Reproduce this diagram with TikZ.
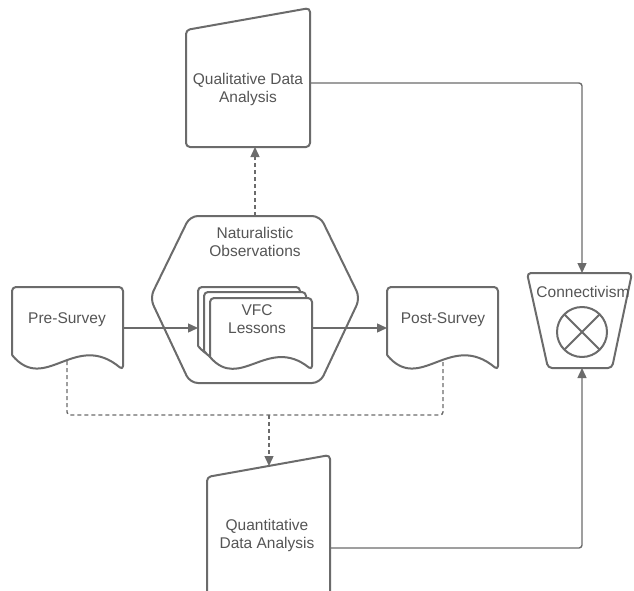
\documentclass[tikz,border=0pt]{standalone}
\usepackage{fontspec}
\setmainfont{Liberation Sans}
\usetikzlibrary{arrows.meta}
\definecolor{linegray}{HTML}{6B6B6B}
\definecolor{textgray}{HTML}{555555}

\begin{document}
\begin{tikzpicture}[x=1pt,y=-1pt,
    box/.style={draw=linegray,line width=2pt,rounded corners=4pt,fill=white,line join=round},
    txt/.style={text=textgray,font=\fontsize{15.5}{18}\selectfont,align=center},
    conn/.style={draw=linegray,line width=1.4pt,rounded corners=3pt,-{Triangle[length=10pt,width=9pt]}},
    dashline/.style={draw=linegray,line width=1.4pt,rounded corners=3pt,dash pattern=on 4pt off 3pt},
    dashconn/.style={conn,dash pattern=on 4pt off 3pt}]
    \clip (0,0) rectangle (634,591);
    % qualitative analysis (manual input)
    \draw[box] (186,30) -- (310,8) -- (310,147) -- (186,147) -- cycle;
    \node[txt] (qual) at (248,89) {Qualitative Data\\Analysis};
    % quantitative analysis (manual input)
    \draw[box] (207,600) -- (207,477) -- (330,455) -- (330,600);
    \node[txt] (quant) at (267,535) {Quantitative\\Data Analysis};
    % naturalistic observations (hexagon)
    \draw[box,rounded corners=8pt] (150,298) -- (190,216) -- (320,216) -- (360,298) -- (320,383) -- (190,383) -- cycle;
    \node[txt] (natobs) at (255,242) {Naturalistic\\Observations};
    % lessons (stacked documents)
    \foreach \dx/\dy in {198/287,204/292,210/298}
        \draw[box,shift={(\dx,\dy)}] (0,59) -- (0,0) -- (102,0) -- (102,72) .. controls (58,37) and (30,94) .. (0,59);
    \node[txt] (vfc) at (257,319) {VFC\\Lessons};
    % surveys (documents)
    \draw[box,shift={(12,287)}] (0,68) -- (0,0) -- (111,0) -- (111,83) .. controls (63,43) and (33,108) .. (0,68);
    \node[txt] (pre) at (67,320) {Pre-Survey};
    \draw[box,shift={(387,287)}] (0,68) -- (0,0) -- (111,0) -- (111,83) .. controls (63,43) and (33,108) .. (0,68);
    \node[txt] (post) at (443,320) {Post-Survey};
    % connectivism (trapezoid with cross)
    \draw[box] (527,273) -- (632,273) -- (612,368) -- (548,368) -- cycle;
    \node[txt] (connect) at (583,292) {Connectivism};
    \draw[box] (582,332) circle[radius=25pt];
    \draw[box] (564.3,314.3) -- (599.7,349.7) (599.7,314.3) -- (564.3,349.7);
    % connection points
    \coordinate (qual-south) at (255,147);
    \coordinate (qual-east) at (310,83);
    \coordinate (hex-north) at (255,216);
    \coordinate (pre-east) at (123,328);
    \coordinate (vfc-west) at (198,328);
    \coordinate (vfc-east) at (312,328);
    \coordinate (post-west) at (387,328);
    \coordinate (pre-south) at (67,361);
    \coordinate (post-south) at (443,361);
    \coordinate (join) at (269,415);
    \coordinate (quant-north) at (269,466);
    \coordinate (quant-east) at (330,548);
    \coordinate (cx-north) at (582,273);
    \coordinate (cx-south) at (582,368);
    % arrows
    \draw[conn] (pre-east) -- (vfc-west);
    \draw[conn] (vfc-east) -- (post-west);
    \draw[dashconn] (hex-north) -- (qual-south);
    \draw[dashline] (pre-south) |- (join) -| (post-south);
    \draw[dashconn] (join) -- (quant-north);
    \draw[conn] (qual-east) -| (cx-north);
    \draw[conn] (quant-east) -| (cx-south);
\end{tikzpicture}
\end{document}
